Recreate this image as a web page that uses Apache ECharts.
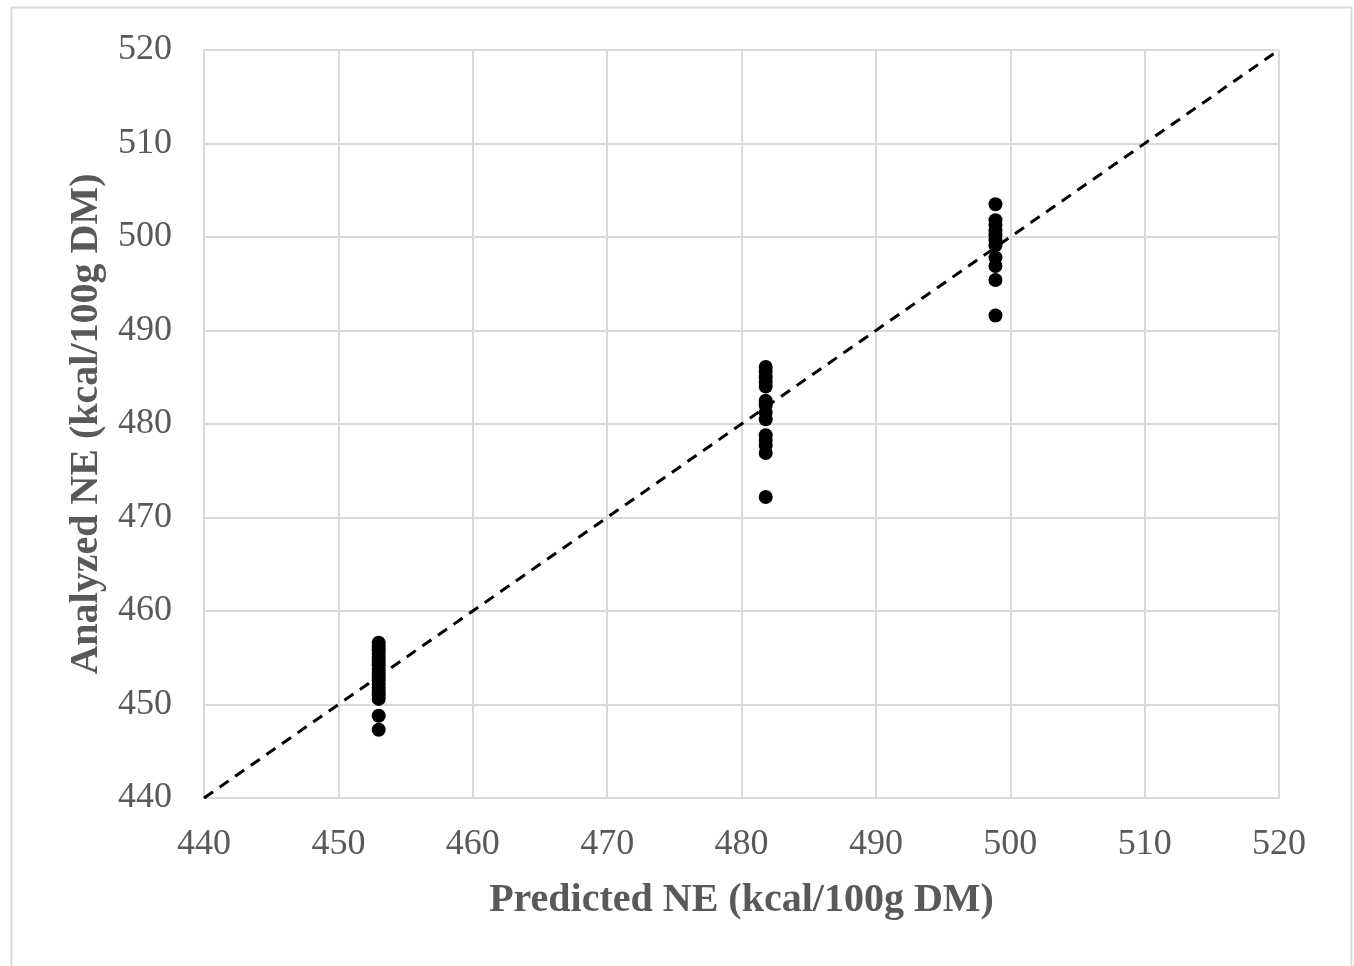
<!DOCTYPE html>
<html>
<head>
<meta charset="utf-8">
<script src="https://cdn.jsdelivr.net/npm/echarts@6/dist/echarts.min.js"></script>
<style>html,body{margin:0;padding:0;background:#fff;}#c{width:1354px;height:966px;}</style>
</head>
<body>
<div id="c"></div>
<script>
var axisMin = 440, axisMax = 520, axisStep = 10;
var xTitle = 'Predicted NE (kcal/100g DM)';
var yTitle = 'Analyzed NE (kcal/100g DM)';

var predictedA = 453.0;
var analyzedA = [456.6, 456.2, 455.8, 455.4, 455.0, 454.6, 454.2, 453.8, 453.4, 453.0, 452.6, 452.2, 451.8, 451.4, 451.0, 450.6, 448.8, 447.3];
var predictedB = 481.8;
var analyzedB = [486.1, 485.6, 485.0, 484.5, 484.0, 482.5, 482.0, 481.2, 480.5, 478.8, 478.3, 477.7, 476.9, 472.2];
var predictedC = 498.9;
var analyzedC = [503.5, 501.8, 501.3, 500.7, 500.2, 499.7, 499.1, 497.8, 496.9, 495.4, 491.6];

var identityLine = [[440, 440], [520, 520]];

function pts(x, ys) { return ys.map(function (y) { return [x, y]; }); }
var scatterData = pts(predictedA, analyzedA).concat(pts(predictedB, analyzedB), pts(predictedC, analyzedC));

var chart = echarts.init(document.getElementById('c'));
var font = '"Liberation Serif", "Times New Roman", serif';
var gridColor = '#d9d9d9';
chart.setOption({
  animation: false,
  backgroundColor: '#fff',
  graphic: [{
    type: 'rect', left: 9, top: 5, shape: { width: 1340, height: 980 },
    style: { fill: 'none', stroke: '#d9d9d9', lineWidth: 2 }, silent: true
  }],
  grid: { left: 204, right: 75, top: 50, bottom: 168, containLabel: false },
  xAxis: {
    type: 'value', min: axisMin, max: axisMax, interval: axisStep,
    name: xTitle, nameLocation: 'middle', nameGap: 83,
    nameTextStyle: { fontFamily: font, fontSize: 40, fontWeight: 'bold', color: '#595959' },
    axisLine: { show: true, lineStyle: { color: gridColor, width: 2 } },
    axisTick: { show: false },
    axisLabel: { fontFamily: font, fontSize: 36, color: '#595959', margin: 29 },
    splitLine: { show: true, lineStyle: { color: gridColor, width: 2 } }
  },
  yAxis: {
    type: 'value', min: axisMin, max: axisMax, interval: axisStep,
    name: yTitle, nameLocation: 'middle', nameGap: 97,
    nameTextStyle: { fontFamily: font, fontSize: 40, fontWeight: 'bold', color: '#595959' },
    axisLine: { show: true, lineStyle: { color: gridColor, width: 2 } },
    axisTick: { show: false },
    axisLabel: { fontFamily: font, fontSize: 36, color: '#595959', margin: 32, padding: [6, 0, 0, 0] },
    splitLine: { show: true, lineStyle: { color: gridColor, width: 2 } }
  },
  series: [
    {
      type: 'line', data: identityLine, showSymbol: false, symbol: 'none',
      lineStyle: { color: '#000', width: 3, type: [11, 8] }, z: 2, silent: true
    },
    {
      type: 'scatter', data: scatterData, symbol: 'circle', symbolSize: 14,
      itemStyle: { color: '#000', opacity: 1 }, z: 3
    }
  ]
});
</script>
</body>
</html>
